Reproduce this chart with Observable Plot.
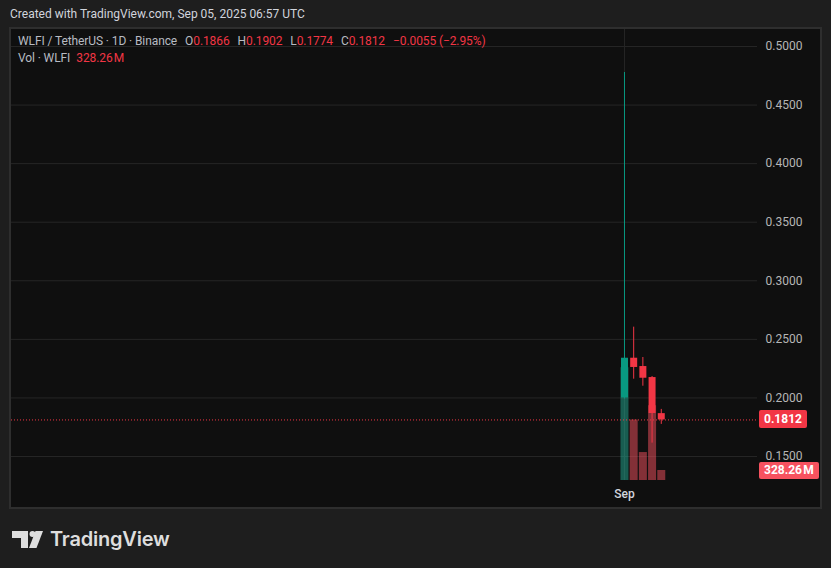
<!DOCTYPE html>
<html><head><meta charset="utf-8">
<script src="https://cdn.jsdelivr.net/npm/d3@7"></script>
<script src="https://cdn.jsdelivr.net/npm/@observablehq/plot@0.6"></script>
<style>
body{margin:0;background:#1e1e1e;width:831px;height:568px;overflow:hidden;font-family:Roboto,"Liberation Sans",sans-serif;position:relative}
#hdr{position:absolute;left:10px;top:7px;font-size:12px;color:#d1d4dc;white-space:nowrap}
#frame{position:absolute;left:9px;top:27px;width:813px;height:482px;border:2px solid #2e2e2e;box-sizing:border-box;background:#0f0f0f}
.layer{position:absolute;left:0;top:0}
.legend{position:absolute;left:7px;font-size:12px;color:#b8bbc2;white-space:nowrap;line-height:16px;letter-spacing:-0.1px}
.legend .v{color:#f23645}
.legend .g{margin-left:8px}
.legend .g2{margin-left:6px}
.lab{position:absolute;left:748px;color:#fff;font-weight:700;font-size:12px;padding:0 5px;border-radius:2px;box-sizing:border-box;white-space:nowrap}
#wm{position:absolute;left:12px;top:527px;display:flex;align-items:center}
#wm span{font-family:Inter,sans-serif;font-weight:600;font-size:20px;color:#dedede;margin-left:7px;letter-spacing:-0.2px}
</style></head>
<body>
<div id="hdr">Created with TradingView.com, Sep 05, 2025 06:57 UTC</div>
<div id="frame"></div>
<div id="wm"><svg width="31" height="17" viewBox="0 0 31 17"><path d="M0 0H16V17H9V7H0Z" fill="#dedede"/><circle cx="20.5" cy="3" r="3" fill="#dedede"/><path d="M23.5 0H31L24.5 17H17Z" fill="#dedede"/></svg><span>TradingView</span></div>
<script>
// ---- data ----
const dates = ["2025-09-01", "2025-09-02", "2025-09-03", "2025-09-04", "2025-09-05"];
const open  = [0.2000, 0.2339, 0.2268, 0.2174, 0.1866];
const high  = [0.4778, 0.2604, 0.2345, 0.2183, 0.1902];
const low   = [0.1990, 0.2160, 0.2100, 0.1614, 0.1774];
const close = [0.2339, 0.2260, 0.2168, 0.1867, 0.1812];
const volume = [3.71e9, 1.99e9, 0.92e9, 2.46e9, 328.26e6];
const priceTicks = [0.15, 0.20, 0.25, 0.30, 0.35, 0.40, 0.45, 0.50];
const timeTicks = ["2025-09-01"];
const timeTickLabels = ["Sep"];

// ---- view settings ----
const DAY = 864e5;
const W = 809, H = 478;
const M = {top: 0, right: 63, bottom: 27, left: 0};
const UP = "#089981", DOWN = "#f23645", VUP = "#22ab94", VDOWN = "#f7525f";

const rows = dates.map((d, i) => ({date: new Date(d + "T00:00:00Z"), open: open[i], high: high[i], low: low[i], close: close[i], vol: volume[i], up: close[i] >= open[i]}));
const first = rows[0].date, last = rows[rows.length - 1].date;
const xDomain = [new Date(+first - 66.63 * DAY), new Date(+last + 10.46 * DAY)];
const yDomain = [0.12951, 0.51451];
const tickDates = timeTicks.map(d => new Date(d + "T00:00:00Z"));

const base = {width: W, height: H, marginTop: M.top, marginRight: M.right, marginBottom: M.bottom, marginLeft: M.left,
  style: {background: "transparent", fontFamily: "Roboto, sans-serif", fontSize: "12px", overflow: "visible"}};

const frame = document.getElementById("frame");
function add(p) { p.classList.add("layer"); p.style.position = "absolute"; p.style.left = "0"; p.style.top = "0"; frame.appendChild(p); return p; }

// layer 1: grid & axes
add(Plot.plot({...base,
  x: {type: "utc", domain: xDomain, axis: null},
  y: {domain: yDomain, axis: null},
  marks: [
    Plot.gridY(priceTicks, {stroke: "#262626", strokeOpacity: 1}),
    Plot.gridX(tickDates, {stroke: "#262626", strokeOpacity: 1}),
    Plot.axisY(priceTicks, {anchor: "right", tickSize: 0, tickPadding: 8, tickFormat: d3.format(".4f"), textAnchor: "start", fill: "#b6b6b6", label: null}),
    Plot.axisX(tickDates, {anchor: "bottom", tickSize: 0, tickPadding: 9, tickFormat: (d, i) => timeTickLabels[i], fill: "#d1d4dc", fontWeight: 500, label: null})
  ]
}));

// layer 2: volume
const volPlot = add(Plot.plot({...base,
  x: {type: "utc", domain: xDomain, axis: null},
  y: {domain: [0, d3.max(volume) * 4], axis: null},
  marks: [
    Plot.ruleX(rows, {x: "date", y1: 0, y2: "vol", stroke: d => d.up ? VUP : VDOWN, strokeOpacity: 0.5, strokeWidth: 8})
  ]
}));

// layer 3: candles
const pricePlot = add(Plot.plot({...base,
  x: {type: "utc", domain: xDomain, axis: null},
  y: {domain: yDomain, axis: null},
  marks: [
    Plot.ruleY([close[close.length - 1]], {stroke: DOWN, strokeDasharray: "1,2", strokeWidth: 1}),
    Plot.ruleX(rows, {x: "date", y1: "low", y2: "high", stroke: d => d.up ? UP : DOWN, strokeWidth: 1}),
    Plot.ruleX(rows, {x: "date", y1: "open", y2: "close", stroke: d => d.up ? UP : DOWN, strokeWidth: 7})
  ]
}));

// legend
const fmt4 = d3.format(".4f");
const n = close.length;
const lc = close[n - 1], lo = open[n - 1], prev = close[n - 2];
const chg = lc - prev, pct = chg / prev * 100;
const leg1 = document.createElement("div");
leg1.className = "legend"; leg1.style.top = "4px";
leg1.innerHTML = `WLFI / TetherUS · 1D · Binance<span class="g">O</span><span class="v">${fmt4(lo)}</span><span class="g">H</span><span class="v">${fmt4(high[n-1])}</span><span class="g">L</span><span class="v">${fmt4(low[n-1])}</span><span class="g">C</span><span class="v">${fmt4(lc)}</span><span class="v g">${(chg<0?"\u2212":"+")+fmt4(Math.abs(chg))} (${(pct<0?"\u2212":"+")+Math.abs(pct).toFixed(2)}%)</span>`;
frame.appendChild(leg1);
const volText = (volume[n - 1] / 1e6).toFixed(2) + "\u200aM";
const leg2 = document.createElement("div");
leg2.className = "legend"; leg2.style.top = "21px";
leg2.innerHTML = `Vol · WLFI<span class="v g2">${volText}</span>`;
frame.appendChild(leg2);

// axis value labels, positioned with the plots' scales
function label(text, yPix, bg, h) {
  const d = document.createElement("div");
  d.className = "lab"; d.textContent = text;
  d.style.background = bg; d.style.height = h + "px"; d.style.lineHeight = h + "px";
  d.style.top = (yPix - h / 2) + "px";
  frame.appendChild(d);
}
label(fmt4(lc), pricePlot.scale("y").apply(lc), DOWN, 18);
label(volText, volPlot.scale("y").apply(volume[n - 1]), VDOWN, 17);
</script>
</body></html>
